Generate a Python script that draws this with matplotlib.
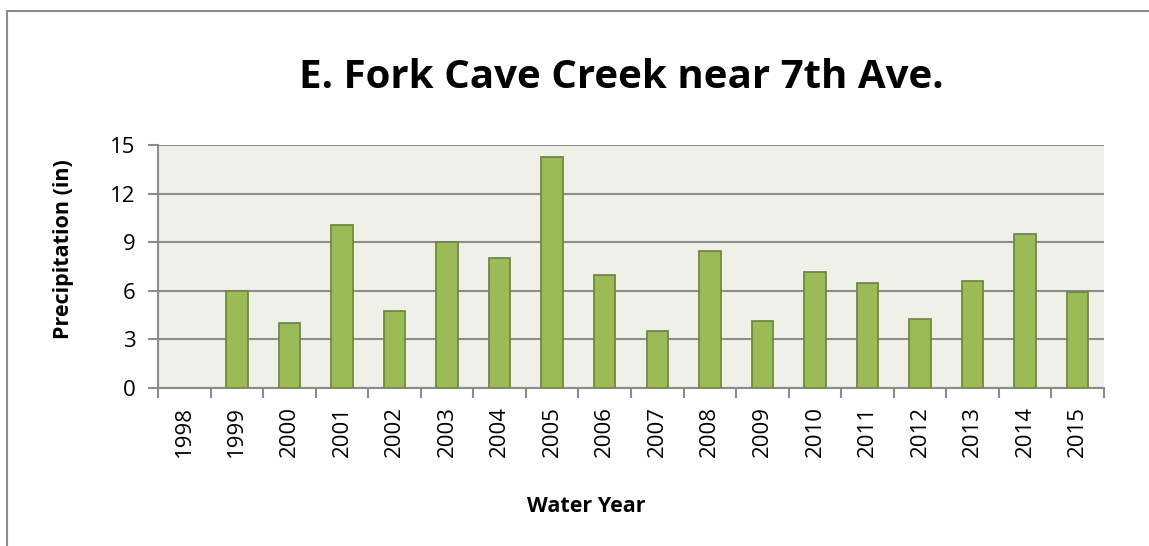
import matplotlib
matplotlib.use("Agg")
import matplotlib.pyplot as plt
import numpy as np

years = ["1998", "1999", "2000", "2001", "2002", "2003", "2004", "2005", "2006",
         "2007", "2008", "2009", "2010", "2011", "2012", "2013", "2014", "2015"]
precip = [np.nan, 6.0, 4.0, 10.05, 4.73, 9.03, 8.05, 14.26, 7.0,
          3.5, 8.48, 4.12, 7.13, 6.5, 4.24, 6.58, 9.53, 5.9]
yticks = [0, 3, 6, 9, 12, 15]

plt.rcParams['font.family'] = ['Open Sans', 'DejaVu Sans']

W, H = 1149, 546
fig = plt.figure(figsize=(W/100, H/100), dpi=100)
ax = fig.add_axes([158/W, 1-388/H, (1104-158)/W, (388-145)/H])

x = np.arange(len(years))
ax.bar(x, precip, width=0.41, color='#9BBB59', edgecolor='#71893F', linewidth=1.3, zorder=3)

ax.set_xlim(-0.5, len(years)-0.5)
ax.set_ylim(0, 15)
ax.set_yticks(yticks)
ax.set_yticklabels([str(v) for v in yticks], fontsize=16)
ax.set_facecolor('#EFF1E8')
ax.yaxis.grid(True, color='#8C8C8C', linewidth=1.5, zorder=1)
ax.set_axisbelow(True)

ax.set_xticks(x)
ax.set_xticklabels(years, rotation=90, fontsize=16)
ax.set_xticks(np.arange(-0.5, len(years), 1), minor=True)
ax.tick_params(axis='x', which='major', length=0, pad=13)
ax.tick_params(axis='x', which='minor', length=7, color='#8C8C8C', width=1.5)
ax.tick_params(axis='y', length=7, color='#8C8C8C', width=1.5, pad=9)

for s in ['top', 'right']:
    ax.spines[s].set_visible(False)
for s in ['left', 'bottom']:
    ax.spines[s].set_color('#8C8C8C')
    ax.spines[s].set_linewidth(1.5)

fig.text(63/W, 1-249/H, 'Precipitation (in)', rotation=90, ha='center', va='center',
         fontsize=15.5, fontweight='bold')
fig.text(586/W, 1-507/H, 'Water Year', ha='center', va='center',
         fontsize=15.5, fontweight='bold')

fig.text(621/W, 1-78/H, 'E. Fork Cave Creek near 7th Ave.', ha='center', va='center',
         fontsize=29, fontweight='bold')

border = plt.Rectangle((7/W, -0.02), 1.1, 1-11/H+0.02, transform=fig.transFigure,
                       fill=False, edgecolor='#8C8C8C', linewidth=1.5)
fig.patches.append(border)

fig.savefig('out.png', dpi=100)
